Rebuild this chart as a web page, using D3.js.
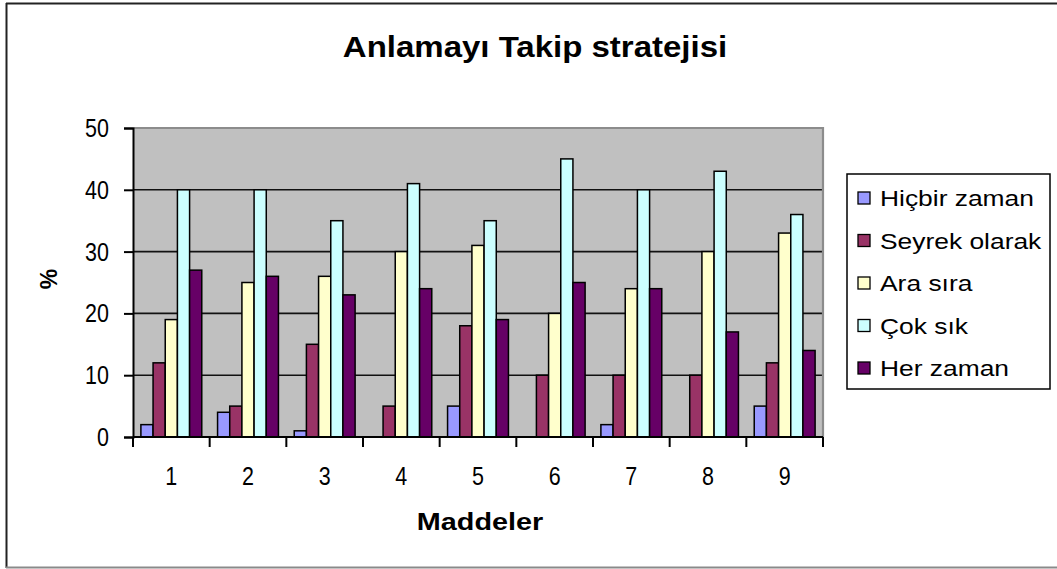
<!DOCTYPE html>
<html>
<head>
<meta charset="utf-8">
<script src="https://cdn.jsdelivr.net/npm/d3@7/dist/d3.min.js"></script>
<style>
  html, body { margin: 0; padding: 0; background: #fff; }
  svg { display: block; }
  text { font-family: "Liberation Sans", Arial, sans-serif; fill: #000; }
</style>
</head>
<body>
<svg id="chart" width="1057" height="569"></svg>
<script>
const categories = ["1", "2", "3", "4", "5", "6", "7", "8", "9"];
const seriesNames = ["Hiçbir zaman", "Seyrek olarak", "Ara sıra", "Çok sık", "Her zaman"];
const hicbirZaman  = [2, 4, 1, 0, 5, 0, 2, 0, 5];
const seyrekOlarak = [12, 5, 15, 5, 18, 10, 10, 10, 12];
const araSira      = [19, 25, 26, 30, 31, 20, 24, 30, 33];
const cokSik       = [40, 40, 35, 41, 35, 45, 40, 43, 36];
const herZaman     = [27, 26, 23, 24, 19, 25, 24, 17, 14];
const yTicks = [0, 10, 20, 30, 40, 50];
const seriesColors = ["#9999FF", "#993366", "#FFFFCC", "#CCFFFF", "#660066"];
const titleText = "Anlamayı Takip stratejisi";
const xTitle = "Maddeler";
const yTitle = "%";

const seriesValues = [hicbirZaman, seyrekOlarak, araSira, cokSik, herZaman];

const svg = d3.select("#chart");
const plot = { left: 133, right: 823, top: 128, bottom: 437 };

// helper: text with horizontal stretch factor
function stext(parent, x, yy, str, size, sx, opts = {}) {
  const t = parent.append("text")
    .attr("transform", `translate(${x},${yy}) scale(${sx},1)`)
    .attr("font-size", size)
    .attr("text-anchor", opts.anchor || "start")
    .text(str);
  if (opts.bold) t.attr("font-weight", "bold");
  return t;
}

// outer frame
svg.append("line").attr("x1", 6).attr("x2", 1057).attr("y1", 3.5).attr("y2", 3.5)
  .attr("stroke", "#222").attr("stroke-width", 2);
svg.append("line").attr("x1", 6.5).attr("x2", 6.5).attr("y1", 3).attr("y2", 568)
  .attr("stroke", "#222").attr("stroke-width", 2);
svg.append("line").attr("x1", 6).attr("x2", 1057).attr("y1", 567.5).attr("y2", 567.5)
  .attr("stroke", "#8a8a8a").attr("stroke-width", 2);

const x0 = d3.scaleBand().domain(categories).range([plot.left, plot.right]).padding(0);
const bw = x0.bandwidth();
const x1 = d3.scaleBand().domain(seriesNames).range([bw * 0.103, bw * 0.897]).padding(0);
const y = d3.scaleLinear().domain([0, 50]).range([plot.bottom, plot.top]);

// plot background
svg.append("rect").attr("x", plot.left).attr("y", plot.top)
  .attr("width", plot.right - plot.left).attr("height", plot.bottom - plot.top)
  .attr("fill", "#C0C0C0");

// gridlines
svg.append("g").selectAll("line").data(yTicks.filter(t => t > 0 && t < 50)).join("line")
  .attr("x1", plot.left).attr("x2", plot.right)
  .attr("y1", d => y(d)).attr("y2", d => y(d))
  .attr("stroke", "#111").attr("stroke-width", 1.6);

// plot border (top/right gray)
svg.append("path")
  .attr("d", `M${plot.left},${plot.top}H${plot.right}V${plot.bottom}`)
  .attr("fill", "none").attr("stroke", "#8c8c8c").attr("stroke-width", 2.2);

// bars
const rows = [];
categories.forEach((c, i) => {
  seriesNames.forEach((s, j) => {
    rows.push({ cat: c, ser: s, value: seriesValues[j][i], color: seriesColors[j] });
  });
});
svg.append("g").selectAll("rect").data(rows.filter(d => d.value > 0)).join("rect")
  .attr("x", d => x0(d.cat) + x1(d.ser))
  .attr("y", d => y(d.value))
  .attr("width", x1.bandwidth())
  .attr("height", d => y(0) - y(d.value))
  .attr("fill", d => d.color)
  .attr("stroke", "#000").attr("stroke-width", 1.5);

// y axis
const yAxis = d3.axisLeft(y).tickValues(yTicks).tickSize(9).tickFormat(d => "");
const gy = svg.append("g").attr("transform", `translate(${plot.left},0)`).call(yAxis);
gy.select(".domain").attr("stroke", "#000").attr("stroke-width", 2);
gy.selectAll(".tick line").attr("stroke", "#000").attr("stroke-width", 2);
const gyl = svg.append("g");
yTicks.forEach(t => {
  stext(gyl, 109, y(t) + 9, String(t), 25, 0.86, { anchor: "end" });
});

// x axis: labels centered, ticks at group boundaries
const gx = svg.append("g").attr("transform", `translate(0,${plot.bottom})`);
gx.append("line").attr("x1", plot.left).attr("x2", plot.right).attr("y1", 0).attr("y2", 0)
  .attr("stroke", "#000").attr("stroke-width", 2);
const boundaries = categories.map(c => x0(c)).concat([plot.right]);
gx.selectAll("line.tk").data(boundaries).join("line").attr("class", "tk")
  .attr("x1", d => d).attr("x2", d => d).attr("y1", 0).attr("y2", 10)
  .attr("stroke", "#000").attr("stroke-width", 2);
categories.forEach(c => {
  stext(gx, x0(c) + bw / 2, 48, c, 25, 0.86, { anchor: "middle" });
});

// titles
stext(svg, 535, 57, titleText, 30, 1.1, { anchor: "middle", bold: true });
stext(svg, 480, 530, xTitle, 24, 1.2, { anchor: "middle", bold: true });
svg.append("text").attr("transform", "translate(57,279) rotate(-90)").attr("text-anchor", "middle")
  .attr("font-size", 23).attr("font-weight", "bold").text(yTitle);

// legend
const lg = svg.append("g");
lg.append("rect").attr("x", 847).attr("y", 174).attr("width", 203).attr("height", 215)
  .attr("fill", "#fff").attr("stroke", "#000").attr("stroke-width", 1.5);
const item = lg.selectAll("g.item").data(seriesNames).join("g").attr("class", "item")
  .attr("transform", (d, i) => `translate(0,${198 + i * 42.5})`);
item.append("rect").attr("x", 858).attr("y", -6).attr("width", 12).attr("height", 12)
  .attr("fill", (d, i) => seriesColors[i]).attr("stroke", "#000").attr("stroke-width", 1.3);
item.each(function (d) {
  stext(d3.select(this), 880, 8, d, 22, 1.2);
});
</script>
</body>
</html>
